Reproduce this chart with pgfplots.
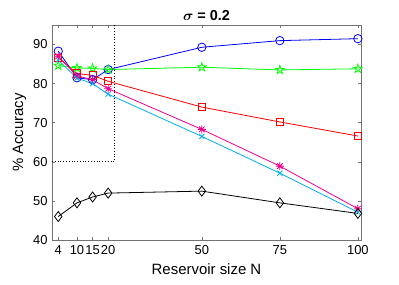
\documentclass[border=0pt]{standalone}
\usepackage{amsmath}
\usepackage{fontspec}
\setmainfont{Liberation Sans}
\usepackage{pgfplots}
\pgfplotsset{compat=1.18}
\usetikzlibrary{plotmarks}
\pgfdeclareplotmark{pentagram}{%
  \pgfpathmoveto{\pgfpointpolar{90}{1\pgfplotmarksize}}%
  \pgfpathlineto{\pgfpointpolar{126}{0.382\pgfplotmarksize}}%
  \pgfpathlineto{\pgfpointpolar{162}{1\pgfplotmarksize}}%
  \pgfpathlineto{\pgfpointpolar{198}{0.382\pgfplotmarksize}}%
  \pgfpathlineto{\pgfpointpolar{234}{1\pgfplotmarksize}}%
  \pgfpathlineto{\pgfpointpolar{270}{0.382\pgfplotmarksize}}%
  \pgfpathlineto{\pgfpointpolar{306}{1\pgfplotmarksize}}%
  \pgfpathlineto{\pgfpointpolar{342}{0.382\pgfplotmarksize}}%
  \pgfpathlineto{\pgfpointpolar{18}{1\pgfplotmarksize}}%
  \pgfpathlineto{\pgfpointpolar{54}{0.382\pgfplotmarksize}}%
  \pgfpathclose\pgfusepathqstroke}
\pgfdeclareplotmark{mstar}{%
  \pgfpathmoveto{\pgfqpoint{-\pgfplotmarksize}{0pt}}\pgfpathlineto{\pgfqpoint{\pgfplotmarksize}{0pt}}%
  \pgfpathmoveto{\pgfqpoint{0pt}{-\pgfplotmarksize}}\pgfpathlineto{\pgfqpoint{0pt}{\pgfplotmarksize}}%
  \pgfpathmoveto{\pgfpoint{-0.707\pgfplotmarksize}{-0.707\pgfplotmarksize}}\pgfpathlineto{\pgfpoint{0.707\pgfplotmarksize}{0.707\pgfplotmarksize}}%
  \pgfpathmoveto{\pgfpoint{-0.707\pgfplotmarksize}{0.707\pgfplotmarksize}}\pgfpathlineto{\pgfpoint{0.707\pgfplotmarksize}{-0.707\pgfplotmarksize}}%
  \pgfusepathqstroke}
\definecolor{axgray}{gray}{0.45}
\begin{document}
\begin{tikzpicture}
\begin{axis}[
  name=ax,
  scale only axis,
  width=309bp, height=215bp,
  xmin=2, xmax=101, ymin=40, ymax=95,
  xtick={4,10,15,20,50,75,100},
  ytick={40,50,60,70,80,90},
  tick align=inside,
  major tick length=3bp,
  tick style={axgray, line width=0.5pt},
  axis line style={axgray, line width=0.5pt},
  every tick label/.append style={font=\fontsize{13}{15}\selectfont, text=black},
  /pgf/number format/assume math mode=true,
  xticklabel style={yshift=-2bp},
  yticklabel style={xshift=-1bp},
  xlabel={Reservoir size N},
  ylabel={\% Accuracy},
  xlabel style={font=\fontsize{15}{17}\selectfont, yshift=-2bp},
  ylabel style={font=\fontsize{15}{17}\selectfont, yshift=0bp},
  title={\textbf{$\boldsymbol{\sigma}$ = 0.2}},
  title style={font=\fontsize{14.5}{16}\selectfont, yshift=-5bp},
  every axis plot/.append style={line width=0.8pt},
  clip=false,
]
\addplot[black, dotted, line width=0.7pt] coordinates {(2,60) (22,60) (22,95)};
\addplot[blue, mark=o, mark size=4.2bp, mark options={solid}] coordinates {
(4,88.3) (10,81.5) (15,81.0) (20,83.6) (50,89.3) (75,91.0) (100,91.5)};
\addplot[green, mark=pentagram, mark size=4.5bp] coordinates {
(4,84.6) (10,84.0) (15,83.9) (20,83.6) (50,84.2) (75,83.5) (100,83.8)};
\addplot[red, mark=square, mark size=3.6bp] coordinates {
(4,86.6) (10,82.6) (15,82.1) (20,80.6) (50,74.0) (75,70.2) (100,66.6)};
\addplot[magenta, mark=mstar, mark size=4bp] coordinates {
(4,87.0) (10,82.0) (15,81.0) (20,78.7) (50,68.3) (75,58.9) (100,48.0)};
\addplot[cyan, mark=x, mark size=3.6bp] coordinates {
(4,86.0) (10,81.4) (15,80.0) (20,77.3) (50,66.5) (75,57.1) (100,47.1)};
\addplot[black, mark=diamond, mark size=5bp] coordinates {
(4,46.0) (10,49.5) (15,51.0) (20,52.0) (50,52.5) (75,49.5) (100,46.8)};
\end{axis}
\pgfresetboundingbox
\path[use as bounding box] ([shift={(-52bp,-45bp)}]ax.south west) rectangle ([shift={(38bp,25bp)}]ax.north east);
\end{tikzpicture}
\end{document}
